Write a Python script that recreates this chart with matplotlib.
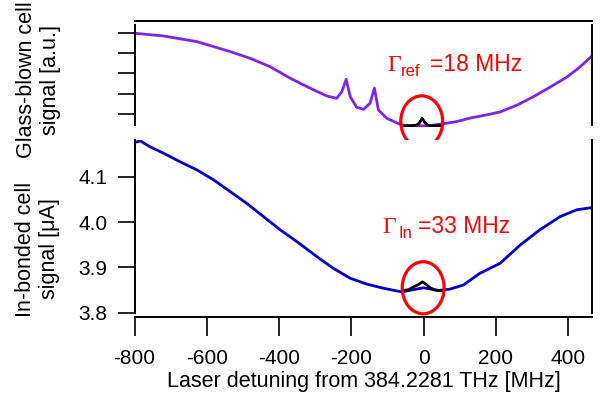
import matplotlib
matplotlib.use("Agg")
import matplotlib.pyplot as plt
from matplotlib.patches import Ellipse

plt.rcParams['font.family'] = ['Liberation Sans', 'DejaVu Sans']
plt.rcParams['axes.unicode_minus'] = False

# glass-blown reference cell (arbitrary units)
ref_x = [-798, -720, -627, -535, -480, -425, -369, -314, -268, -241, -226, -214,
         -203, -185, -166, -148, -136, -125, -102, -65, -54, -20, 0, 20, 46, 90,
         129, 170, 212, 260, 303, 350, 397, 430, 466]
ref_y = [4.97, 4.84, 4.56, 4.07, 3.74, 3.33, 2.76, 2.27, 1.89, 1.77, 2.10, 2.71,
         1.85, 1.33, 1.23, 1.53, 2.27, 1.20, 0.79, 0.49, 0.44, 0.42, 0.42, 0.43,
         0.50, 0.62, 0.80, 0.94, 1.10, 1.45, 1.84, 2.32, 2.82, 3.27, 3.85]

# zoomed reference feature
ref_pk_x = [-54, -35, -20, -12, -4, 4, 12, 25, 45]
ref_pk_y = [0.41, 0.42, 0.45, 0.55, 0.79, 0.57, 0.45, 0.42, 0.43]

# In-bonded cell (uA)
in_x = [-798, -784, -757, -720, -674, -627, -581, -535, -489, -443, -397, -351, -314,
        -296, -250, -203, -157, -111, -74, -60, -40, 0, 40, 73, 110, 156, 212, 267,
        322, 378, 424, 467]
in_y = [4.176, 4.179, 4.166, 4.152, 4.133, 4.115, 4.093, 4.067, 4.041, 4.012, 3.983,
        3.957, 3.935, 3.924, 3.898, 3.876, 3.863, 3.854, 3.848, 3.846, 3.849, 3.855,
        3.849, 3.852, 3.861, 3.887, 3.909, 3.949, 3.983, 4.012, 4.027, 4.032]

in_pk_x = [-56, -40, -28, -14, -3, 8, 18, 32, 46, 55]
in_pk_y = [3.849, 3.851, 3.857, 3.862, 3.868, 3.862, 3.855, 3.850, 3.849, 3.849]

xticks = [-800, -600, -400, -200, 0, 200, 400]
in_yticks = [3.8, 3.9, 4.0, 4.1]
ref_yticks = [1, 2, 3, 4, 5]

W, H = 606, 396
fig = plt.figure(figsize=(W / 100, H / 100), dpi=100)

def fx(px):
    return px / W

def fy(py):
    return 1 - py / H

left, right = 134.5, 592.3
ax1 = fig.add_axes([fx(left), fy(127), fx(right - left), (127 - 21) / H])
ax2 = fig.add_axes([fx(left), fy(317), fx(right - left), (317 - 140) / H])

purple = '#7F22EE'
blue = '#0000CC'
red = '#FF0000'

ax1.plot(ref_x, ref_y, color=purple, lw=2.0)
ax1.plot(ref_pk_x, ref_pk_y, color='k', lw=2.0)
ax2.plot(in_x, in_y, color=blue, lw=2.0)
ax2.plot(in_pk_x, in_pk_y, color='k', lw=2.0)

for ax in (ax1, ax2):
    ax.set_xlim(-800, 467)
    for s in ax.spines.values():
        s.set_linewidth(1.4)

# top panel
ax1.set_ylim(0.36, 5.576)
ax1.set_yticks(ref_yticks)
ax1.set_yticklabels([])
ax1.set_xticks([])
ax1.spines['bottom'].set_visible(False)
ax1.spines['left'].set_bounds(0.459, 5.38)
ax1.spines['right'].set_bounds(0.459, 5.38)
ax1.tick_params(axis='y', direction='out', length=12, width=1.2)

# bottom panel
ax2.set_ylim(3.7905, 4.181)
ax2.set_yticks(in_yticks)
ax2.set_yticklabels(['3.8', '3.9', '4.0', '4.1'])
ax2.set_xticks(xticks)
ax2.set_xticklabels([str(v) for v in xticks])
ax2.spines['top'].set_visible(False)
ax2.spines['left'].set_bounds(3.8, 4.181)
ax2.spines['right'].set_bounds(3.8, 4.181)
ax2.tick_params(axis='y', direction='out', length=12, width=1.2, pad=7.5, labelsize=15)
ax2.tick_params(axis='x', direction='out', length=13.5, width=1.2, pad=9.5, labelsize=15)
ax2.set_xlabel('Laser detuning from 384.2281 THz [MHz]', fontsize=15.5, labelpad=2)

# circled features
ax1.add_patch(Ellipse((-5, 0.626), 116, 2.53, fill=False, ec=red, lw=2.3,
                      clip_on=False, zorder=5))
ax2.add_patch(Ellipse((-1, 3.855), 116, 0.1148, fill=False, ec=red, lw=2.3,
                      clip_on=False, zorder=5))

def gamma_label(x0, base, sub, x_sub, x_rest, rest):
    fig.text(fx(x0), fy(base), '\u0393', color=red, fontsize=17,
             family='Liberation Serif', ha='left', va='baseline')
    fig.text(fx(x_sub), fy(base + 5), sub, color=red, fontsize=12,
             ha='left', va='baseline')
    fig.text(fx(x_rest), fy(base), rest, color=red, fontsize=16.5,
             ha='left', va='baseline')

gamma_label(387, 71, 'ref', 401, 430, '=18 MHz')
gamma_label(382.5, 233.3, 'In', 398, 418.5, '=33 MHz')

fig.text(fx(38.5), fy(80), 'Glass-blown cell\nsignal [a.u.]', rotation=90,
         ha='center', va='center', multialignment='center', fontsize=15.5, linespacing=1.2)
fig.text(fx(37.5), fy(249), 'In-bonded cell\nsignal [\u03bcA]', rotation=90,
         ha='center', va='center', multialignment='center', fontsize=15.5, linespacing=1.2)

fig.savefig('out.png', dpi=100)
